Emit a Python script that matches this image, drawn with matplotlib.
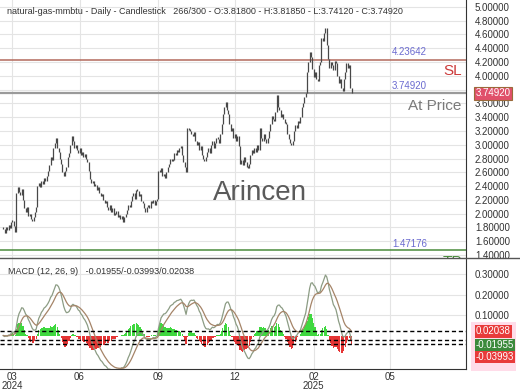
import numpy as np
import pandas as pd
import matplotlib
matplotlib.use('Agg')
import matplotlib.pyplot as plt
from matplotlib.lines import Line2D
from matplotlib.patches import Rectangle

plt.rcParams['font.family'] = ['Liberation Sans', 'DejaVu Sans']

# daily closes (bar by bar, approximate)
closes = [
    1.78, 1.72, 1.80, 1.76, 1.84, 1.79, 1.88, 1.90, 1.82, 1.74,
    2.30, 2.38, 2.32, 2.27, 2.36,
    2.20, 2.08, 2.02, 2.10, 1.96, 1.99, 1.92, 1.90, 1.95,
    2.02, 2.10, 2.40, 2.45, 2.38, 2.47, 2.43, 2.52, 2.48, 2.55,
    2.62, 2.70, 2.82, 2.78, 2.95, 3.02, 3.10,
    2.95, 2.90, 2.80, 2.72, 2.60, 2.55,
    2.62, 2.68, 2.82, 2.88, 3.00, 3.12,
    3.05, 2.95, 3.00, 2.92, 2.88, 2.95, 2.85, 2.90, 2.82, 2.86, 2.80, 2.75,
    2.62, 2.50, 2.45, 2.48,
    2.40, 2.42, 2.35, 2.38, 2.30, 2.25, 2.28, 2.20, 2.15, 2.18,
    2.10, 2.05, 2.12, 2.02, 2.08, 1.98, 2.00, 2.04, 1.95, 1.98, 1.92, 1.96, 1.88, 1.95,
    2.00, 2.05, 2.12, 2.10, 2.18, 2.25, 2.30, 2.22, 2.35, 2.33,
    2.25, 2.28, 2.18, 2.15, 2.08, 2.03, 2.10,
    2.12, 2.08, 2.18, 2.15, 2.20, 2.12, 2.18, 2.22,
    2.62, 2.60, 2.66, 2.55, 2.58, 2.52,
    2.60, 2.68, 2.72, 2.80, 2.76, 2.78, 2.88, 2.85, 2.92, 2.90, 2.95, 2.98,
    2.85, 2.75, 2.68, 2.60,
    3.25, 3.22, 3.20, 3.15, 3.12, 3.18,
    3.05, 3.00, 3.04, 2.92, 2.98, 2.85, 2.80, 2.76, 2.82,
    2.90, 2.95, 2.88, 3.00, 3.05, 2.95, 3.02, 3.10, 3.08, 3.02, 3.15,
    3.30, 3.45, 3.55, 3.62,
    3.50, 3.45, 3.30, 3.20, 3.25, 3.10, 3.15, 3.05, 3.12, 2.98,
    2.72, 2.78, 2.70, 2.82, 2.75, 2.68, 2.66, 2.72,
    2.85, 2.92, 2.88, 2.95, 2.90, 3.00, 2.93,
    3.25, 3.10, 3.05, 3.15, 3.08, 3.02, 3.10,
    3.20, 3.30, 3.42, 3.38, 3.35, 3.48,
    3.72,
    3.55, 3.50, 3.40, 3.45, 3.38, 3.32, 3.30,
    3.15, 3.08, 3.02, 3.00, 3.05,
    3.20, 3.28, 3.25, 3.35, 3.32, 3.40,
    3.55, 3.60, 3.70, 3.75,
    4.05, 4.20, 4.35, 4.28,
    4.10, 3.98, 4.05, 3.95, 3.92,
    4.15, 4.20, 4.55, 4.50,
    4.62, 4.70,
    4.45, 4.25, 4.12, 4.20, 4.15, 4.08,
    4.22, 4.18,
    4.00, 3.90, 3.95, 3.82, 3.78,
    3.95, 4.05, 4.18, 4.12, 4.15,
    3.818, 3.7492,
]

sl_level = 4.23642
price_level = 3.74920
tp_level = 1.47176
# last MACD values: histogram, MACD line, signal line
macd_vals = [0.02038, -0.01955, -0.03993]

tick_pos = [7, 58, 118, 176, 236, 294]
tick_labels = ['03\n2024', '06', '09', '12', '02\n2025', '05']

title = ('natural-gas-mmbtu - Daily - Candlestick   266/300 - O:3.81800 - '
         'H:3.81850 - L:3.74120 - C:3.74920')
macd_title = 'MACD (12, 26, 9)   -0.01955/-0.03993/0.02038'

c = np.array(closes)
idx = np.arange(len(c))
opens = np.r_[c[0], c[:-1]]
lo = np.minimum(opens, c)
hi = np.maximum(np.maximum(opens, c), lo + 0.03)

s = pd.Series(c)
macd = s.ewm(span=12, adjust=False).mean() - s.ewm(span=26, adjust=False).mean()
signal = macd.ewm(span=9, adjust=False).mean()
hist = macd - signal

W, H = 520, 390
fig = plt.figure(figsize=(5.2, 3.9), dpi=100)
ax = fig.add_axes([0, 1 - 258 / H, 466 / W, 258 / H])
ax2 = fig.add_axes([0, 1 - 369 / H, 466 / W, 111 / H], sharex=ax)

# price panel
ax.vlines(idx, lo, hi, color='#484848', lw=0.9, zorder=3)
ax.set_xlim(-2.5, 351.9)
ax.set_ylim(1.357, 5.10)
ax.set_yticks(np.arange(1.4, 5.01, 0.2))
ax.yaxis.set_major_formatter(plt.FuncFormatter(
    lambda v, p: '' if abs(v - 3.8) < 0.01 else '%.5f' % v))
ax.yaxis.tick_right()
ax.tick_params(axis='y', length=0, pad=6.5, labelsize=7, colors='#333333')
ax.tick_params(axis='x', length=0, labelbottom=False)
ax.set_xticks(tick_pos)
ax.grid(True, color='#e4e4e4', lw=0.8)
for sp in ['top', 'left', 'bottom']:
    ax.spines[sp].set_visible(False)
ax.spines['right'].set_color('#333333')

trans = ax.get_yaxis_transform()
ax.axhline(sl_level, color='#b36a5c', lw=1.1, zorder=2)
ax.axhline(price_level, color='#9a9a9a', lw=1.6, zorder=2)
ax.axhline(tp_level, color='#4a8c3c', lw=1.1, zorder=2)

lab_kw = dict(xycoords=trans, textcoords='offset points', fontsize=7, color='#6a6ad0')
ax.annotate('%.5f' % sl_level, xy=(392 / 466, sl_level), xytext=(0, 1.5), va='bottom', **lab_kw)
ax.annotate('%.5f' % price_level, xy=(392 / 466, price_level), xytext=(0, 1.5), va='bottom', **lab_kw)
ax.annotate('%.5f' % tp_level, xy=(392 / 466, tp_level), xytext=(0, 1), va='bottom', **lab_kw)
ax.annotate('SL', xy=(462 / 466, sl_level), xycoords=trans, xytext=(0, -3), textcoords='offset points',
            ha='right', va='top', fontsize=11, color='#cc3a3a')
ax.annotate('At Price', xy=(461 / 466, price_level), xycoords=trans, xytext=(0, -4), textcoords='offset points',
            ha='right', va='top', fontsize=11, color='#7a7a7a')
ax.annotate('TP', xy=(462 / 466, tp_level), xycoords=trans, xytext=(0, -3.5), textcoords='offset points',
            ha='right', va='top', fontsize=11, color='#4a8c3c', annotation_clip=True, clip_on=True)
ax.annotate('%.5f' % price_level, xy=(1, price_level), xycoords=trans, xytext=(7, 0),
            textcoords='offset points', ha='left', va='center', fontsize=7, color='white',
            bbox=dict(boxstyle='square,pad=0.15', fc='#e0506a', ec='#9a6a3a', lw=0.8),
            annotation_clip=False, zorder=5)
ax.text(260 / 466, 2.30, 'Arincen', transform=trans, ha='center', va='center',
        fontsize=20, color='#5a5a5a', zorder=4)

# MACD panel
hcol = np.where(hist >= 0, '#3fd83f', '#e63434')
ax2.bar(idx, hist, width=0.9, color=hcol, zorder=2)
ax2.plot(idx, macd, color='#8c9c84', lw=0.9, zorder=3)
ax2.plot(idx, signal, color='#a58468', lw=0.9, zorder=3)
for v in macd_vals:
    ax2.axhline(v, color='black', ls=(0, (3, 2)), lw=1, zorder=4)
ax2.set_ylim(-0.163, 0.378)
ax2.set_yticks([0.1, 0.2, 0.3])
ax2.yaxis.set_major_formatter(plt.FuncFormatter(lambda v, p: '%.5f' % v))
ax2.yaxis.tick_right()
ax2.tick_params(axis='y', length=0, pad=6.5, labelsize=7, colors='#333333')
ax2.tick_params(axis='x', length=0, pad=2, labelsize=7, colors='#333333')
ax2.set_xticks(tick_pos)
ax2.set_xticklabels(tick_labels, linespacing=0.85)
ax2.grid(True, color='#e4e4e4', lw=0.8)
ax2.spines['left'].set_visible(False)
ax2.spines['top'].set_visible(False)
ax2.spines['right'].set_color('#333333')
ax2.spines['bottom'].set_color('#333333')

trans2 = ax2.get_yaxis_transform()
fig.patches.append(Rectangle((471 / W, 1 - 371 / H), 45 / W, 49 / H, transform=fig.transFigure,
                             fc='#ffdce9', ec='none', zorder=-1))
box_cols = ['#e83a3a', '#3c8a3c', '#e83a3a']
box_offs = [0, -4, -9.6]
for v, col, off in zip(macd_vals, box_cols, box_offs):
    ax2.annotate('%.5f' % v, xy=(1, v), xycoords=trans2, xytext=(7, off), textcoords='offset points',
                 ha='left', va='center', fontsize=7, color='white',
                 bbox=dict(boxstyle='square,pad=0.12', fc=col, ec='none'),
                 annotation_clip=False, zorder=5)

fig.add_artist(Line2D([0, 1], [1 - 258 / H] * 2, color='#555555', lw=1))

fig.text(7 / W, 1 - 11 / H, title, fontsize=6.5, color='#333333', va='center')
fig.text(8 / W, 1 - 272 / H, macd_title, fontsize=6.5, color='#333333', va='center')

fig.savefig('out.png', dpi=100)
